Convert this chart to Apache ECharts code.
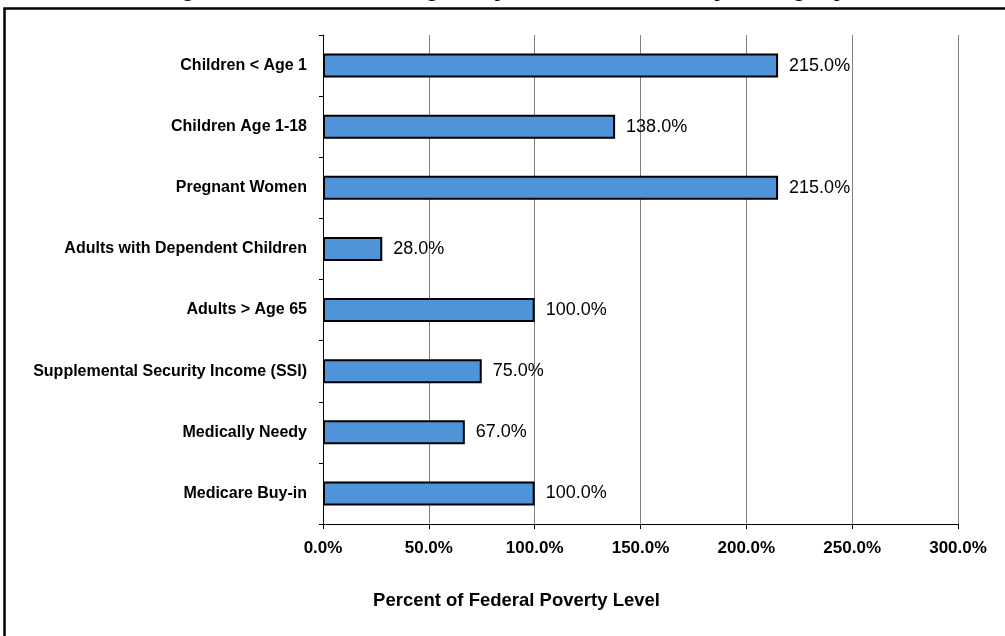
<!DOCTYPE html>
<html>
<head>
<meta charset="utf-8">
<script src="https://cdn.jsdelivr.net/npm/echarts@6/dist/echarts.min.js"></script>
<style>
html,body{margin:0;padding:0;background:#fff;}
#chart{width:1005px;height:636px;}
</style>
</head>
<body>
<div id="chart"></div>
<script>
const titleText = 'Figure 3: Medicaid Eligibility Income Limits by Category';
const categories = [
  'Children < Age 1',
  'Children Age 1-18',
  'Pregnant Women',
  'Adults with Dependent Children',
  'Adults > Age 65',
  'Supplemental Security Income (SSI)',
  'Medically Needy',
  'Medicare Buy-in'
];
const values = [215, 138, 215, 28, 100, 75, 67, 100];
const xTicks = [0, 50, 100, 150, 200, 250, 300];
const xAxisName = 'Percent of Federal Poverty Level';

const chart = echarts.init(document.getElementById('chart'), null, {renderer: 'canvas'});
const FONT = 'Arial, "Liberation Sans", sans-serif';
chart.setOption({
  animation: false,
  backgroundColor: '#fff',
  graphic: [
    {type: 'rect', shape: {x: 4.5, y: 8.5, width: 1100, height: 700}, style: {fill: 'none', stroke: '#000', lineWidth: 2.5}, z: 100},
    {type: 'text', left: 'center', top: -24, style: {text: titleText, font: 'bold 26px ' + FONT, fill: '#000'}}
  ],
  grid: [
    {left: 323, right: 47, top: 35, bottom: 112},
  ],
  xAxis: [{
    type: 'value', gridIndex: 0, min: xTicks[0], max: xTicks[xTicks.length - 1], interval: 50,
    axisLine: {show: true, lineStyle: {color: '#000', width: 1}},
    axisTick: {show: true, length: 5, lineStyle: {color: '#000'}},
    splitLine: {show: true, lineStyle: {color: '#808080', width: 1}},
    axisLabel: {formatter: v => v.toFixed(1) + '%', fontFamily: FONT, fontWeight: 'bold', fontSize: 17, color: '#000', margin: 16},
    name: xAxisName, nameLocation: 'middle', nameGap: 67,
    nameTextStyle: {fontFamily: FONT, fontWeight: 'bold', fontSize: 18.5, color: '#000', padding: [0, 248, 0, 0]}
  }],
  yAxis: [{
    type: 'category', gridIndex: 0, data: categories, inverse: true,
    axisLine: {show: true, lineStyle: {color: '#000', width: 1}},
    axisTick: {show: true, length: 4, lineStyle: {color: '#000'}},
    axisLabel: {fontFamily: FONT, fontWeight: 'bold', fontSize: 16, color: '#000', margin: 16}
  }],
  series: [{
    type: 'bar', data: values, barWidth: 24,
    itemStyle: {color: '#4F94D9', borderColor: '#000', borderWidth: 2},
    label: {show: true, position: 'right', distance: 11, formatter: p => p.value.toFixed(1) + '%',
      fontFamily: FONT, fontSize: 18, color: '#000'}
  }]
});
</script>
</body>
</html>
